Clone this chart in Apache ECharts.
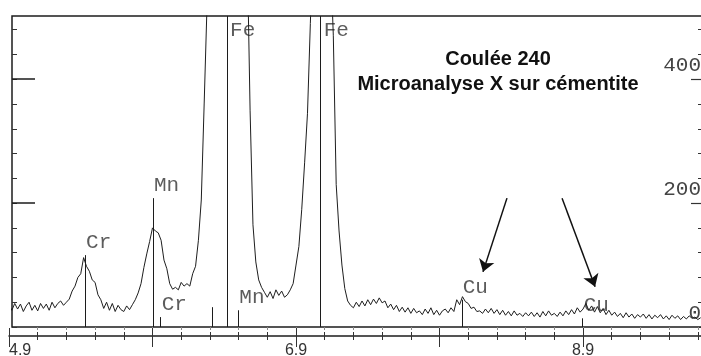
<!DOCTYPE html>
<html>
<head>
<meta charset="utf-8">
<script src="https://cdn.jsdelivr.net/npm/echarts@6/dist/echarts.min.js"></script>
<style>
  html, body { margin: 0; padding: 0; background: #fff; }
  #chart { width: 701px; height: 356px; }
</style>
</head>
<body>
<div id="chart"></div>
<script>
// EDS spectrum: first channel energy and channel width (keV)
const energyStart = 4.90;
const energyStep = 0.02;

// Counts per channel from 4.90 keV to 9.72 keV (10 channels per row)
const counts = [
  36, 27, 38, 29, 37, 25, 34, 40, 27, 35,
  26, 38, 30, 37, 27, 40, 31, 38, 42, 35,
  40, 45, 58, 66, 80, 86, 112, 98, 90, 76,
  72, 52, 44, 30, 40, 27, 38, 25, 35, 28,
  25, 34, 28, 36, 44, 55, 70, 96, 118, 138,
  160, 155, 152, 140, 108, 94, 70, 61, 64, 60,
  72, 66, 70, 66, 86, 98, 140, 205, 360, 520,
  880, 1450, 2200, 3000, 3600, 3950, 4050, 3850, 3300, 2600,
  1850, 1250, 850, 610, 350, 165, 105, 76, 64, 56,
  48, 57, 46, 60, 51, 58, 48, 52, 60, 70,
  100, 130, 190, 265, 345, 490, 640, 760, 840, 860,
  820, 720, 600, 470, 230, 155, 100, 62, 42, 35,
  31, 40, 33, 42, 34, 44, 36, 45, 38, 47,
  39, 42, 31, 37, 28, 35, 25, 32, 24, 31,
  22, 30, 23, 26, 20, 29, 22, 31, 20, 27,
  19, 26, 29, 23, 31, 25, 44, 36, 49, 41,
  38, 30, 32, 25, 26, 22, 29, 23, 30, 22,
  28, 20, 27, 19, 25, 18, 26, 19, 22, 17,
  23, 18, 24, 17, 23, 16, 25, 18, 26, 19,
  22, 17, 24, 18, 26, 20, 28, 21, 31, 24,
  29, 38, 27, 34, 24, 33, 23, 30, 20, 27,
  19, 24, 17, 22, 15, 23, 16, 21, 14, 20,
  16, 21, 14, 20, 13, 19, 15, 20, 13, 18,
  12, 19, 14, 18, 12, 17, 13, 18, 14, 16,
  12, 15
];

// Identified characteristic lines: symbol, energy (keV), marker height (counts)
const lineNames    = ['Cr', 'Mn', 'Cr', '', 'Fe', 'Mn', 'Fe', 'Cu', 'Cu'];
const lineEnergies = [5.43, 5.903, 5.957, 6.313, 6.42, 6.498, 7.072, 8.055, 8.898];
const lineHeights  = [116, 208, 16, 32, 502, 27, 502, 44, 14];

// Axis ranges
const energyAxisMin = 4.9;    // lower energy scale
const plotEnergyMin = 4.921;  // left edge of the plotting frame
const energyMax = 9.729;
const countMax = 502;

// Tick labels
const energyTickLabels = [4.9, 6.9, 8.9];
const countTickLabels = [0, 200, 400];
const countMajorTicks = [200, 400];

// Arrows pointing at the copper lines: [energy, counts]
const arrowStarts = [[8.37, 208], [8.754, 208]];
const arrowEnds   = [[8.203, 89], [8.984, 65]];

// ---- derived lists ----
const spectrum = counts.map((c, i) => [+(energyStart + i * energyStep).toFixed(2), c]);

const energyMinorTicks = [];
for (let k = 0; energyAxisMin + k * 0.2 <= energyMax + 1e-9; k++) {
  energyMinorTicks.push(+(energyAxisMin + k * 0.2).toFixed(1));
}
const energyMajorTicks = [];
for (let k = 0; energyAxisMin + k <= energyMax + 1e-9; k++) {
  energyMajorTicks.push(+(energyAxisMin + k).toFixed(1));
}
const countMinorTicks = [];
for (let v = 0; v < countMax; v += 40) countMinorTicks.push(v);

const markerLines = lineEnergies.map((e, i) => [
  { coord: [e, 0] },
  { coord: [e, lineHeights[i]] }
]);

const labelPoints = [];
lineNames.forEach((n, i) => {
  if (!n) return;
  const atTop = lineHeights[i] >= countMax;
  labelPoints.push({
    name: n,
    value: [lineEnergies[i], lineHeights[i]],
    label: atTop
      ? { position: [3, 4], verticalAlign: 'top' }
      : { position: [1, -2], verticalAlign: 'bottom' }
  });
});

const arrows = arrowStarts.map((s, i) => [{ coord: s }, { coord: arrowEnds[i] }]);

const inkColor = '#1c1c1c';
const textColor = '#333';
const monoFont = 'Liberation Mono, DejaVu Sans Mono, monospace';

function tickAxisX(extra) {
  return Object.assign({
    type: 'value',
    min: energyAxisMin,
    max: energyMax,
    gridIndex: 1,
    position: 'bottom',
    axisLine: { show: false },
    axisLabel: { show: false },
    splitLine: { show: false }
  }, extra);
}

const option = {
  animation: false,
  backgroundColor: '#fff',
  title: {
    text: 'Coulée 240\nMicroanalyse X sur cémentite',
    left: 498,
    top: 47,
    padding: 0,
    textAlign: 'center',
    textStyle: {
      fontFamily: 'Liberation Sans, Arial, sans-serif',
      fontSize: 20,
      fontWeight: 'bold',
      color: '#111',
      lineHeight: 25
    }
  },
  grid: [
    {
      left: 12, right: -1, top: 16, bottom: 29,
      show: true, borderColor: inkColor, borderWidth: 1.5,
      outerBoundsMode: 'none'
    },
    {
      left: 9, right: -1, top: 335, bottom: 20,
      outerBoundsMode: 'none'
    }
  ],
  xAxis: [
    // plotting frame scale
    {
      type: 'value', gridIndex: 0, position: 'bottom',
      min: plotEnergyMin, max: energyMax,
      axisLine: { show: false }, axisTick: { show: false },
      axisLabel: { show: false }, splitLine: { show: false }
    },
    // small ticks along the top edge
    {
      type: 'value', gridIndex: 0, position: 'top',
      min: plotEnergyMin, max: energyMax,
      axisLine: { show: false },
      axisTick: { show: true, inside: true, length: 3, customValues: energyMinorTicks,
                  lineStyle: { color: '#888', width: 1 } },
      axisLabel: { show: false }, splitLine: { show: false }
    },
    // energy scale under the frame
    tickAxisX({
      axisLine: { show: true, lineStyle: { color: inkColor, width: 1.5 } },
      axisTick: { show: true, length: 4, customValues: energyMinorTicks,
                  lineStyle: { color: textColor, width: 1 } },
      axisLabel: {
        show: true,
        customValues: energyTickLabels,
        formatter: v => v.toFixed(1),
        margin: 7,
        fontFamily: 'Liberation Sans, Arial, sans-serif',
        fontSize: 16,
        color: textColor,
        alignMinLabel: 'left'
      }
    }),
    tickAxisX({
      axisTick: { show: true, inside: true, length: 4, customValues: energyMinorTicks,
                  lineStyle: { color: textColor, width: 1 } }
    }),
    tickAxisX({
      axisTick: { show: true, length: 11, customValues: energyMajorTicks,
                  lineStyle: { color: textColor, width: 1 } }
    }),
    tickAxisX({
      axisTick: { show: true, inside: true, length: 8, customValues: energyMajorTicks,
                  lineStyle: { color: textColor, width: 1 } }
    })
  ],
  yAxis: [
    {
      type: 'value', gridIndex: 0, position: 'left', min: 0, max: countMax,
      axisLine: { show: false },
      axisTick: { show: true, inside: true, length: 5, customValues: countMinorTicks,
                  lineStyle: { color: textColor, width: 1 } },
      axisLabel: { show: false }, splitLine: { show: false }
    },
    {
      type: 'value', gridIndex: 0, position: 'left', min: 0, max: countMax,
      axisLine: { show: false },
      axisTick: { show: true, inside: true, length: 23, customValues: countMajorTicks,
                  lineStyle: { color: inkColor, width: 1.5 } },
      axisLabel: { show: false }, splitLine: { show: false }
    },
    {
      type: 'value', gridIndex: 0, position: 'right', min: 0, max: countMax,
      axisLine: { show: false },
      axisTick: { show: true, inside: true, length: 4, customValues: countMinorTicks,
                  lineStyle: { color: textColor, width: 1 } },
      axisLabel: {
        show: true, inside: true, margin: 1,
        customValues: countTickLabels,
        verticalAlign: 'bottom',
        padding: [0, 0, 3, 0],
        fontFamily: monoFont, fontSize: 21, color: '#444'
      },
      splitLine: { show: false }
    },
    {
      type: 'value', gridIndex: 0, position: 'right', min: 0, max: countMax,
      axisLine: { show: false },
      axisTick: { show: true, inside: true, length: 11, customValues: countMajorTicks,
                  lineStyle: { color: textColor, width: 1.2 } },
      axisLabel: { show: false }, splitLine: { show: false }
    },
    { type: 'value', gridIndex: 1, show: false, min: 0, max: 1 }
  ],
  series: [
    {
      name: 'spectre',
      type: 'line',
      xAxisIndex: 0,
      yAxisIndex: 0,
      data: spectrum,
      showSymbol: false,
      clip: true,
      lineStyle: { color: '#1e1e1e', width: 1 },
      markLine: {
        silent: true,
        symbol: 'none',
        label: { show: false },
        lineStyle: { color: inkColor, width: 1, type: 'solid' },
        emphasis: { disabled: true },
        data: markerLines
      }
    },
    {
      name: 'raies',
      type: 'scatter',
      xAxisIndex: 0,
      yAxisIndex: 0,
      symbolSize: 0,
      clip: false,
      data: labelPoints,
      label: {
        show: true,
        formatter: p => p.name,
        fontFamily: monoFont,
        fontSize: 21,
        color: textColor
      },
      markLine: {
        silent: true,
        symbol: ['none', 'arrow'],
        symbolSize: 12,
        label: { show: false },
        lineStyle: { color: '#111', width: 1.5, type: 'solid' },
        emphasis: { disabled: true },
        data: arrows
      }
    }
  ]
};

const chart = echarts.init(document.getElementById('chart'), null, { renderer: 'canvas' });
chart.setOption(option);
</script>
</body>
</html>
